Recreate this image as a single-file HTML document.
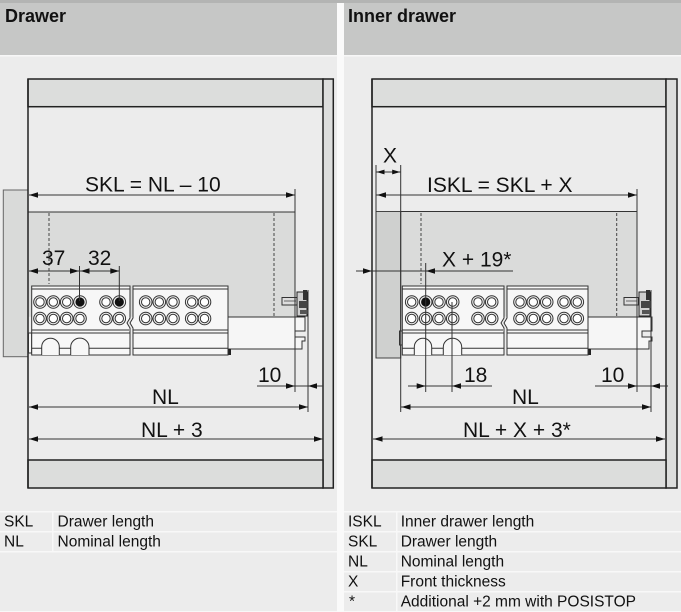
<!DOCTYPE html>
<html><head><meta charset="utf-8"><style>
html,body{margin:0;padding:0;background:#ececec;}
svg{display:block;}
text{font-family:"Liberation Sans",Arial,sans-serif;fill:#111;}
</style></head><body>
<svg width="681" height="612" viewBox="0 0 681 612" xmlns="http://www.w3.org/2000/svg">
<defs>
<g id="h"><circle r="6.3" fill="#efefef" stroke="#333" stroke-width="1"/><circle r="4.2" fill="#fff" stroke="#333" stroke-width="1"/></g>
<g id="hb"><circle r="6.3" fill="#efefef" stroke="#333" stroke-width="1"/><circle r="4.6" fill="#111"/></g>
</defs>
<rect width="681" height="612" fill="#ececec"/>
<!-- header -->
<rect x="0" y="0" width="681" height="55" fill="#c6c7c6"/>
<rect x="337" y="0" width="7" height="612" fill="#fafafa"/>
<rect x="0" y="0" width="681" height="3" fill="#b3b4b3"/>
<rect x="0" y="55" width="337" height="1.5" fill="#f7f7f7"/>
<rect x="344" y="55" width="337" height="1.5" fill="#f7f7f7"/>
<text x="5" y="22" font-size="18" font-weight="bold">Drawer</text>
<text x="348" y="22" font-size="18" font-weight="bold">Inner drawer</text>

<!-- ================= LEFT DIAGRAM ================= -->
<!-- front panel (outside) -->
<rect x="3.3" y="190" width="24.7" height="166.7" fill="#d9dad9" stroke="#666" stroke-width="1"/>
<!-- drawer side gray -->
<rect x="28" y="212" width="267" height="104.7" fill="#dadbda"/>
<line x1="28" y1="212" x2="295" y2="212" stroke="#333" stroke-width="1"/>
<!-- dashed -->
<line x1="49" y1="213" x2="49" y2="284" stroke="#444" stroke-width="1" stroke-dasharray="3,2"/>
<line x1="274" y1="213" x2="274" y2="316" stroke="#444" stroke-width="1" stroke-dasharray="3,2"/>
<!-- cabinet -->
<g stroke="#222" stroke-width="1.5">
<rect x="28" y="79" width="295" height="27.7" fill="#dcdddc"/>
<rect x="323" y="79" width="10.3" height="409" fill="#dcdddc"/>
<rect x="28" y="460" width="295" height="28" fill="#dcdddc"/>
<line x1="28" y1="79" x2="28" y2="488"/>
</g>
<!-- runner extension -->
<path d="M228,317 H305 V331 H295 V337 H305 V341 H302 V349 H228 Z" fill="#f6f6f6" stroke="#333" stroke-width="1"/>
<rect x="228" y="349" width="3" height="6" fill="#222"/>
<!-- mechanism -->
<rect x="282" y="297.5" width="15" height="7.5" fill="#ddd" stroke="#333" stroke-width="1"/>
<line x1="284" y1="301" x2="296" y2="301" stroke="#666" stroke-width="1"/>
<rect x="297" y="292" width="10" height="24" fill="#cfcfcf" stroke="#222" stroke-width="1"/>
<rect x="303" y="290" width="4" height="10" fill="#333"/>
<rect x="299" y="301" width="9" height="7" fill="#444"/>
<rect x="300" y="310" width="8" height="4" fill="#555"/>
<!-- runner body -->
<g stroke="#333" stroke-width="1">
<rect x="28.5" y="333" width="3.2" height="20" fill="#f6f6f6"/>
<path d="M31.7,286 H130 V318 L127,323 L130,328 V355 H31.7 Z" fill="#f7f7f7"/>
<path d="M133,286 H228 V355 H133 V328 L130,323 L133,318 Z" fill="#f7f7f7"/>
<line x1="31.7" y1="289" x2="130" y2="289"/>
<line x1="133" y1="289" x2="228" y2="289"/>
<line x1="31.7" y1="330" x2="129" y2="330"/>
<line x1="31.7" y1="333" x2="129.5" y2="333"/>
<line x1="133" y1="330" x2="228" y2="330"/>
<line x1="133" y1="333" x2="228" y2="333"/>
<line x1="31.7" y1="348.3" x2="130" y2="348.3"/>
<line x1="133" y1="348.3" x2="228" y2="348.3"/>
<path d="M41.7,355 V347 A8.8,8.8 0 0 1 59.3,347 V355" fill="#f7f7f7"/>
<path d="M70.7,355 V347 A9.1,8.8 0 0 1 89,347 V355" fill="#f7f7f7"/>
</g>
<!-- holes left -->
<use href="#h" x="40" y="302"/><use href="#h" x="53.3" y="302"/><use href="#h" x="66.7" y="302"/><use href="#hb" x="80" y="302"/>
<use href="#h" x="106" y="302"/><use href="#hb" x="119.3" y="302"/>
<use href="#h" x="145.7" y="302"/><use href="#h" x="159.3" y="302"/><use href="#h" x="173" y="302"/><use href="#h" x="191.7" y="302"/><use href="#h" x="204.5" y="302"/>
<use href="#h" x="40" y="318.5"/><use href="#h" x="53.3" y="318.5"/><use href="#h" x="66.7" y="318.5"/><use href="#h" x="80" y="318.5"/>
<use href="#h" x="106" y="318.5"/><use href="#h" x="119.3" y="318.5"/>
<use href="#h" x="145.7" y="318.5"/><use href="#h" x="159.3" y="318.5"/><use href="#h" x="173" y="318.5"/><use href="#h" x="191.7" y="318.5"/><use href="#h" x="204.5" y="318.5"/>
<!-- extension lines left -->
<g stroke="#333" stroke-width="1">
<line x1="295" y1="189" x2="295" y2="392"/>
<line x1="308" y1="290" x2="308" y2="412"/>
<line x1="79.5" y1="266" x2="79.5" y2="301"/>
<line x1="119.3" y1="266" x2="119.3" y2="301"/>
<!-- dim lines -->
<line x1="29" y1="195" x2="295" y2="195"/>
<line x1="29" y1="271" x2="119.3" y2="271"/>
<line x1="257" y1="386" x2="323" y2="386"/>
<line x1="29" y1="407" x2="308" y2="407"/>
<line x1="29" y1="439" x2="323" y2="439"/>
</g>
<g fill="#111">
<polygon points="29,195 38,192.3 38,197.7"/><polygon points="295,195 286,192.3 286,197.7"/>
<polygon points="29,271 38,268.3 38,273.7"/><polygon points="79,271 70,268.3 70,273.7"/>
<polygon points="80.5,271 89.5,268.3 89.5,273.7"/><polygon points="119.3,271 110.3,268.3 110.3,273.7"/>
<polygon points="295,386 286,383.3 286,388.7"/><polygon points="308,386 317,383.3 317,388.7"/>
<polygon points="29,407 38,404.3 38,409.7"/><polygon points="308,407 299,404.3 299,409.7"/>
<polygon points="29,439 38,436.3 38,441.7"/><polygon points="323,439 314,436.3 314,441.7"/>
</g>
<g font-size="21">
<text x="85" y="191.5">SKL = NL – 10</text>
<text x="42" y="265">37</text>
<text x="88" y="265">32</text>
<text x="258" y="382">10</text>
<text x="152" y="404">NL</text>
<text x="141" y="437">NL + 3</text>
</g>

<!-- ================= RIGHT DIAGRAM ================= -->
<rect x="400.7" y="211.5" width="236.3" height="105" fill="#dadbda"/>
<line x1="376" y1="211.5" x2="637" y2="211.5" stroke="#333" stroke-width="1"/>
<rect x="376" y="211.5" width="24.7" height="146.5" fill="#cfd0cf" stroke="#444" stroke-width="1"/>
<line x1="421" y1="213" x2="421" y2="284" stroke="#444" stroke-width="1" stroke-dasharray="3,2"/>
<line x1="616.7" y1="213" x2="616.7" y2="316" stroke="#444" stroke-width="1" stroke-dasharray="3,2"/>
<g stroke="#222" stroke-width="1.5">
<rect x="372" y="79" width="294" height="27.7" fill="#dcdddc"/>
<rect x="666" y="79" width="11" height="409" fill="#dcdddc"/>
<rect x="372" y="460" width="294" height="28" fill="#dcdddc"/>
<line x1="372" y1="79" x2="372" y2="488"/>
</g>
<path d="M588,317 H652 V331 H642 V337 H652 V341 H649 V349 H588 Z" fill="#f6f6f6" stroke="#333" stroke-width="1"/>
<rect x="588" y="349" width="3" height="6" fill="#222"/>
<rect x="624" y="297.5" width="14.5" height="7.5" fill="#ddd" stroke="#333" stroke-width="1"/>
<line x1="626" y1="301" x2="637" y2="301" stroke="#666" stroke-width="1"/>
<rect x="639" y="292" width="11" height="24" fill="#cfcfcf" stroke="#222" stroke-width="1"/>
<rect x="646" y="290" width="4" height="10" fill="#333"/>
<rect x="641" y="301" width="10" height="7" fill="#444"/>
<rect x="642" y="310" width="8" height="4" fill="#555"/>
<g stroke="#333" stroke-width="1">
<rect x="399.5" y="331" width="2.8" height="14" fill="#f6f6f6"/>
<path d="M402.3,286 H504 V318 L501,323 L504,328 V355 H402.3 Z" fill="#f7f7f7"/>
<path d="M507,286 H588 V355 H507 V328 L504,323 L507,318 Z" fill="#f7f7f7"/>
<line x1="402.3" y1="289" x2="504" y2="289"/>
<line x1="507" y1="289" x2="588" y2="289"/>
<line x1="402.3" y1="330" x2="503" y2="330"/>
<line x1="402.3" y1="333" x2="503.5" y2="333"/>
<line x1="507" y1="330" x2="588" y2="330"/>
<line x1="507" y1="333" x2="588" y2="333"/>
<line x1="402.3" y1="348.3" x2="504" y2="348.3"/>
<line x1="507" y1="348.3" x2="588" y2="348.3"/>
<path d="M414.3,355 V347 A8.7,8.7 0 0 1 431.7,347 V355" fill="#f7f7f7"/>
<path d="M443.3,355 V347 A9.2,8.7 0 0 1 461.7,347 V355" fill="#f7f7f7"/>
</g>
<use href="#h" x="411.7" y="302"/><use href="#hb" x="425.7" y="302"/><use href="#h" x="439" y="302"/><use href="#h" x="452.7" y="302"/>
<use href="#h" x="478" y="302"/><use href="#h" x="491.7" y="302"/>
<use href="#h" x="520" y="302"/><use href="#h" x="533.3" y="302"/><use href="#h" x="546.7" y="302"/><use href="#h" x="564" y="302"/><use href="#h" x="577.3" y="302"/>
<use href="#h" x="411.7" y="318.5"/><use href="#h" x="425.7" y="318.5"/><use href="#h" x="439" y="318.5"/><use href="#h" x="452.7" y="318.5"/>
<use href="#h" x="478" y="318.5"/><use href="#h" x="491.7" y="318.5"/>
<use href="#h" x="520" y="318.5"/><use href="#h" x="533.3" y="318.5"/><use href="#h" x="546.7" y="318.5"/><use href="#h" x="564" y="318.5"/><use href="#h" x="577.3" y="318.5"/>
<g stroke="#333" stroke-width="1">
<line x1="376" y1="165" x2="376" y2="358"/>
<line x1="400.7" y1="165" x2="400.7" y2="412"/>
<line x1="425.7" y1="263" x2="425.7" y2="392"/>
<line x1="452" y1="302" x2="452" y2="392"/>
<line x1="637" y1="189" x2="637" y2="392"/>
<line x1="651" y1="290" x2="651" y2="412"/>
<line x1="376" y1="172" x2="400.7" y2="172"/>
<line x1="376" y1="195" x2="637" y2="195"/>
<line x1="356" y1="271" x2="513" y2="271"/>
<line x1="408" y1="386" x2="492" y2="386"/>
<line x1="595" y1="386" x2="668" y2="386"/>
<line x1="400.7" y1="407" x2="651" y2="407"/>
<line x1="373" y1="439" x2="665" y2="439"/>
</g>
<g fill="#111">
<polygon points="376.5,172 384.5,169.6 384.5,174.4"/><polygon points="400.2,172 392.2,169.6 392.2,174.4"/>
<polygon points="377,195 386,192.3 386,197.7"/><polygon points="637,195 628,192.3 628,197.7"/>
<polygon points="372,271 363,268.3 363,273.7"/><polygon points="426,271 435,268.3 435,273.7"/>
<polygon points="425.7,386 416.7,383.3 416.7,388.7"/><polygon points="452,386 461,383.3 461,388.7"/>
<polygon points="637,386 628,383.3 628,388.7"/><polygon points="651,386 660,383.3 660,388.7"/>
<polygon points="401.5,407 410.5,404.3 410.5,409.7"/><polygon points="651,407 642,404.3 642,409.7"/>
<polygon points="373.5,439 382.5,436.3 382.5,441.7"/><polygon points="665,439 656,436.3 656,441.7"/>
</g>
<g font-size="21">
<text x="383" y="162.5">X</text>
<text x="427" y="192">ISKL = SKL + X</text>
<text x="442" y="266.5">X + 19*</text>
<text x="464" y="382">18</text>
<text x="601" y="382">10</text>
<text x="512" y="404">NL</text>
<text x="463" y="437">NL + X + 3*</text>
</g>

<!-- ================= LEGENDS ================= -->
<g fill="#f8f8f8">
<rect x="0" y="511" width="337" height="1.5"/>
<rect x="0" y="531" width="337" height="1.5"/>
<rect x="0" y="551" width="337" height="1.5"/>
<rect x="52" y="511" width="1.5" height="41"/>
<rect x="344" y="511" width="337" height="1.5"/>
<rect x="344" y="531" width="337" height="1.5"/>
<rect x="344" y="551" width="337" height="1.5"/>
<rect x="344" y="571" width="337" height="1.5"/>
<rect x="344" y="591" width="337" height="1.5"/>
<rect x="344" y="611" width="337" height="1"/>
<rect x="0" y="611" width="337" height="1"/>
<rect x="396" y="511" width="1.5" height="101"/>
</g>
<g font-size="15.5">
<text x="4" y="526.5">SKL</text><text x="57.5" y="526.5">Drawer length</text>
<text x="4" y="546.5">NL</text><text x="57.5" y="546.5">Nominal length</text>
<text x="348" y="526.5">ISKL</text><text x="400.7" y="526.5">Inner drawer length</text>
<text x="348" y="546.5">SKL</text><text x="400.7" y="546.5">Drawer length</text>
<text x="348" y="566.5">NL</text><text x="400.7" y="566.5">Nominal length</text>
<text x="348" y="586.5">X</text><text x="400.7" y="586.5">Front thickness</text>
<text x="349" y="606.5">*</text><text x="400.7" y="606.5">Additional +2 mm with POSISTOP</text>
</g>
</svg>
</body></html>
